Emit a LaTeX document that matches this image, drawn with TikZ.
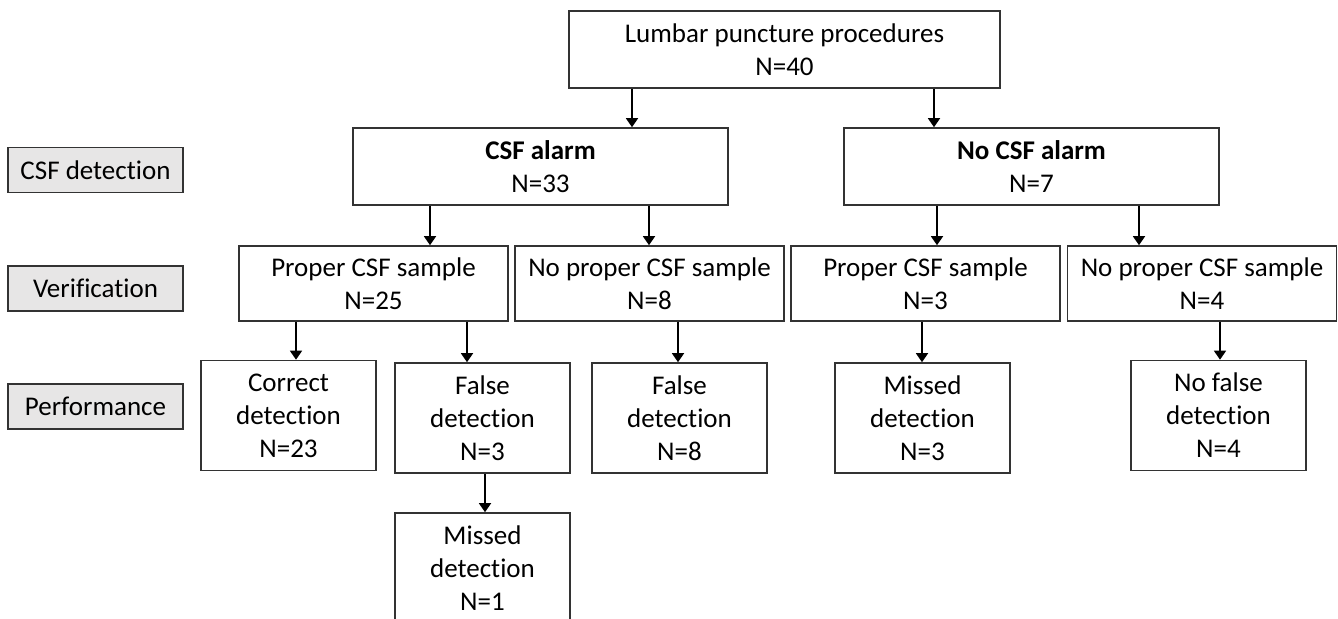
\documentclass[tikz,border=0pt]{standalone}
\usepackage{fontspec}
\setmainfont{Carlito}[Ligatures=CommonOff]
\usepackage{tikz}
\usetikzlibrary{positioning,arrows.meta}
\definecolor{stagegray}{HTML}{E7E6E6}
\tikzset{
block/.style = {draw=black!80, line width=0.8pt, fill=white, rectangle, align=center, inner sep=0pt, font=\fontsize{13.5}{16.5}\selectfont},
topblock/.style = {block, minimum width=215.5pt, minimum height=38.5pt},
alarmblock/.style = {block, minimum width=187.5pt, minimum height=38.5pt},
sampleblock/.style = {block, minimum width=134.5pt, minimum height=37.5pt},
resultblock/.style = {block, minimum width=87.5pt, minimum height=55pt},
stage/.style = {block, fill=stagegray, minimum width=87.5pt, minimum height=22.5pt}
}

\begin{document}
\begin{tikzpicture}[x=0.5pt, y=-0.5pt, >={Triangle[width=6pt,length=4.5pt]}, line width=0.8pt]
   \clip (0,0) rectangle (1338,619);
   % stage labels
   \node [stage] (detect) at (95.5,170) {CSF detection};
   \node [stage] (verif) at (95.5,288.5) {Verification};
   \node [stage] (perf) at (95.5,406.5) {Performance};
   % tree
   \node [topblock] (lumbar) at (784.5,49.5) {Lumbar puncture procedures\\N=40};
   \node [alarmblock] (alarm) at (540.5,166.5) {\textbf{CSF alarm}\\N=33};
   \node [alarmblock] (noalarm) at (1031.5,166.5) {\textbf{No CSF alarm}\\N=7};
   \node [sampleblock] (propA) at (373.5,283.5) {Proper CSF sample\\N=25};
   \node [sampleblock] (nopropA) at (649.5,283.5) {No proper CSF sample\\N=8};
   \node [sampleblock] (propB) at (925.5,283.5) {Proper CSF sample\\N=3};
   \node [sampleblock] (nopropB) at (1202,283.5) {No proper CSF sample\\N=4};
   \node [resultblock] (correct) at (288.5,415.5) {Correct\\detection\\N=23};
   \node [resultblock] (falseA) at (482.5,418) {False\\detection\\N=3};
   \node [resultblock] (falseB) at (679.5,418) {False\\detection\\N=8};
   \node [resultblock] (missedB) at (922.5,418) {Missed\\detection\\N=3};
   \node [resultblock] (nofalse) at (1218.5,415.5) {No false\\detection\\N=4};
   \node [resultblock] (missedA) at (482.5,568) {Missed\\detection\\N=1};
   % arrows
   \draw [->] (lumbar.south -| 632,0) -- (alarm.north -| 632,0);
   \draw [->] (lumbar.south -| 934,0) -- (noalarm.north -| 934,0);
   \draw [->] (alarm.south -| 430,0) -- (propA.north -| 430,0);
   \draw [->] (alarm.south -| 649,0) -- (nopropA.north -| 649,0);
   \draw [->] (noalarm.south -| 937,0) -- (propB.north -| 937,0);
   \draw [->] (noalarm.south -| 1139,0) -- (nopropB.north -| 1139,0);
   \draw [->] (propA.south -| 296,0) -- (correct.north -| 296,0);
   \draw [->] (propA.south -| 467,0) -- (falseA.north -| 467,0);
   \draw [->] (nopropA.south -| 678,0) -- (falseB.north -| 678,0);
   \draw [->] (propB.south -| 922,0) -- (missedB.north -| 922,0);
   \draw [->] (nopropB.south -| 1220,0) -- (nofalse.north -| 1220,0);
   \draw [->] (falseA.south -| 485,0) -- (missedA.north -| 485,0);
\end{tikzpicture}
\end{document}
